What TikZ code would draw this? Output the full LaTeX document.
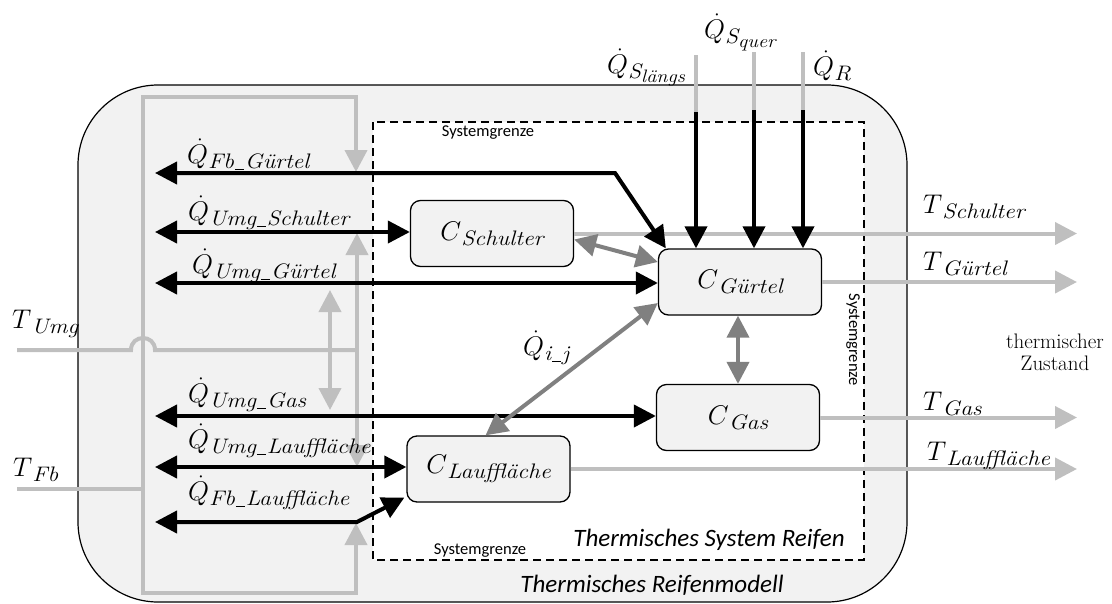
\RequirePackage{fix-cm}
\documentclass[tikz,border=0pt]{standalone}
\usepackage{fontspec}
\usepackage{graphicx}
\usetikzlibrary{arrows.meta}
\newfontfamily\carlito{Carlito}
\definecolor{lgray}{HTML}{BFBFBF}
\definecolor{dgray}{HTML}{808080}
\definecolor{boxfill}{HTML}{F2F2F2}
\newcommand\subt[1]{\raisebox{-5pt}{\scalebox{1.13}[1]{\fontsize{21}{24}\selectfont\itshape #1}}}
\newcommand\subtt[1]{\raisebox{-4pt}{\fontsize{18}{20}\selectfont\itshape #1}}
\newcommand\us{\kern0.8pt\rule[-2pt]{8pt}{1.1pt}\kern0.8pt}
\tikzset{
  tri/.tip={Triangle[length=22pt,width=22pt]},
  lg/.style={draw=lgray, line width=4pt},
  dg/.style={draw=dgray, line width=4pt, tri-tri},
  blk/.style={draw=black, line width=4pt},
  cnode/.style={draw=black, line width=1.3pt, fill=boxfill, rounded corners=10pt,
    minimum width=163pt, minimum height=66pt, inner sep=0pt, font=\fontsize{27}{30}\selectfont},
  lab/.style={anchor=base west, inner sep=0pt, font=\fontsize{27}{30}\selectfont},
  sg/.style={font=\carlito\fontsize{16.5}{18}\selectfont, inner sep=0pt},
  bigit/.style={font=\carlito\itshape\fontsize{25}{28}\selectfont, inner sep=0pt, anchor=base},
}
\begin{document}
\begin{tikzpicture}[x=1pt,y=-1pt]
\useasboundingbox (0,0) rectangle (1112,603);
% outer model box
\draw[line width=1.2pt, fill=boxfill, rounded corners=80pt] (78,85) rectangle (907,602);
% system boundary
\draw[line width=1.2pt, fill=white, dash pattern=on 8pt off 5pt] (373,122) rectangle (864,560);

% coordinates
\coordinate (fbin) at (17,489);
\coordinate (lv) at (143,489);
\coordinate (lt) at (143,97);
\coordinate (lb) at (143,593);
\coordinate (rt) at (356,97);
\coordinate (rb) at (356,593);
\coordinate (rttip) at (356,172);
\coordinate (rbtip) at (356,523);
\coordinate (umgin) at (17,350);
\coordinate (hopa) at (131,350);
\coordinate (hopb) at (155,350);
\coordinate (umgj) at (357,350);
\coordinate (umgj2) at (330,350);
\coordinate (tout) at (1077,0);

% nodes
\node[cnode] (sch) at (492,233.5) {$C$\subt{Schulter}};
\node[cnode] (gue) at (740,282) {$C$\subt{Gürtel}};
\node[cnode] (gas) at (738,417.5) {$C$\subt{Gas}};
\node[cnode] (lau) at (488.5,469) {$C$\subt{Lauffläche}};

% light gray inputs (T_Fb loop)
\draw[lg] (fbin) -- (lv);
\draw[lg, -tri] (lv) -- (lt) -- (rt) -- (rttip);
\draw[lg, -tri] (lv) -- (lb) -- (rb) -- (rbtip);
% T_Umg with hop
\draw[lg] (umgin) -- (hopa) .. controls (131,334) and (155,334) .. (hopb) -- (umgj);
\draw[lg, -tri] (umgj) -- (357,233);
\draw[lg, -tri] (umgj) -- (357,467);
\draw[lg, -tri] (umgj2) -- (330,290);
\draw[lg, -tri] (umgj2) -- (330,410);

% outputs
\draw[lg, -tri] (sch.east) -- (sch.east -| tout);
\draw[lg, -tri] (gue.east) -- (gue.east -| tout);
\draw[lg, -tri] (gas.east) -- (gas.east -| tout);
\draw[lg, -tri] (lau.east) -- (lau.east -| tout);

% top inputs
\coordinate (qa0) at (696,55);  \coordinate (qa1) at (696,112);
\coordinate (qb0) at (754,52);  \coordinate (qb1) at (754,110);
\coordinate (qc0) at (803,52);  \coordinate (qc1) at (803,110);
\draw[lg] (qa0) -- (qa1);
\draw[lg] (qb0) -- (qb1);
\draw[lg] (qc0) -- (qc1);
\draw[blk, -tri] (qa1) -- (qa1 |- gue.north);
\draw[blk, -tri] (qb1) -- (qb1 |- gue.north);
\draw[blk, -tri] (qc1) -- (qc1 |- gue.north);

% black exchange arrows
\coordinate (e1) at (155,173); \coordinate (e1b) at (615,173);
\coordinate (e2) at (155,232);
\coordinate (e3) at (155,283);
\coordinate (e4) at (155,416);
\coordinate (e5) at (155,467);
\coordinate (e6) at (155,522); \coordinate (e6b) at (357,522);
\draw[blk, tri-tri] (e1) -- (e1b) -- ([xshift=8pt]gue.north west);
\draw[blk, tri-tri] (e2) -- (e2 -| sch.west);
\draw[blk, tri-tri] (e3) -- (e3 -| gue.west);
\draw[blk, tri-tri] (e4) -- (e4 -| gas.west);
\draw[blk, tri-tri] (e5) -- (e5 -| lau.west);
\draw[blk, tri-tri] (e6) -- (e6b) -- ([xshift=-2pt,yshift=5pt]lau.south west);

% internal exchange
\draw[dg] ([yshift=-6pt]sch.east) -- ([yshift=20pt]gue.west);
\draw[dg] (gas.north) -- (gas.north |- gue.south);
\draw[dg] ([xshift=-3pt]lau.north) -- ([yshift=-21pt]gue.west);

% labels
\node[lab] (lqfg) at (187,163) {$\dot{Q}$\subt{Fb\us Gürtel}};
\node[lab] (lqus) at (188,220) {$\dot{Q}$\subt{Umg\us Schulter}};
\node[lab] (lqug) at (192,273) {$\dot{Q}$\subt{Umg\us Gürtel}};
\node[lab] (lqga) at (188,402) {$\dot{Q}$\subt{Umg\us Gas}};
\node[lab] (lqul) at (188,448) {$\dot{Q}$\subt{Umg\us Lauffläche}};
\node[lab] (lqfl) at (188,500) {$\dot{Q}$\subt{Fb\us Lauffläche}};
\node[lab] (ltu) at (12,328) {$T$\subt{Umg}};
\node[lab] (ltf) at (13,476) {$T$\subt{Fb}};
\node[lab] (lqsl) at (607,73) {$\dot{Q}$\subt{S\subtt{längs}}};
\node[lab] (lqsq) at (704,38) {$\dot{Q}$\subt{S\subtt{quer}}};
\node[lab] (lqr) at (813,75) {$\dot{Q}$\subt{R}};
\node[lab] (lqij) at (523,355) {$\dot{Q}$\subt{i\us j}};
\node[lab] (lts) at (923,213) {$T$\subt{Schulter}};
\node[lab] (ltg) at (923,270) {$T$\subt{Gürtel}};
\node[lab] (ltga) at (923,410) {$T$\subt{Gas}};
\node[lab] (ltl) at (927,460) {$T$\subt{Lauffläche}};
\node[align=center, inner sep=0pt, font=\fontsize{21}{22}\selectfont] (tz) at (1055,352) {thermischer\\Zustand};

\node[sg, anchor=base] (sg1) at (488,136) {Systemgrenze};
\node[sg, anchor=base] (sg2) at (480,554) {Systemgrenze};
\node[sg, rotate=-90] (sg3) at (853,340) {Systemgrenze};
\node[bigit] (tsr) at (709,546) {Thermisches System Reifen};
\node[bigit] (trm) at (652,592) {Thermisches Reifenmodell};
\end{tikzpicture}
\end{document}
